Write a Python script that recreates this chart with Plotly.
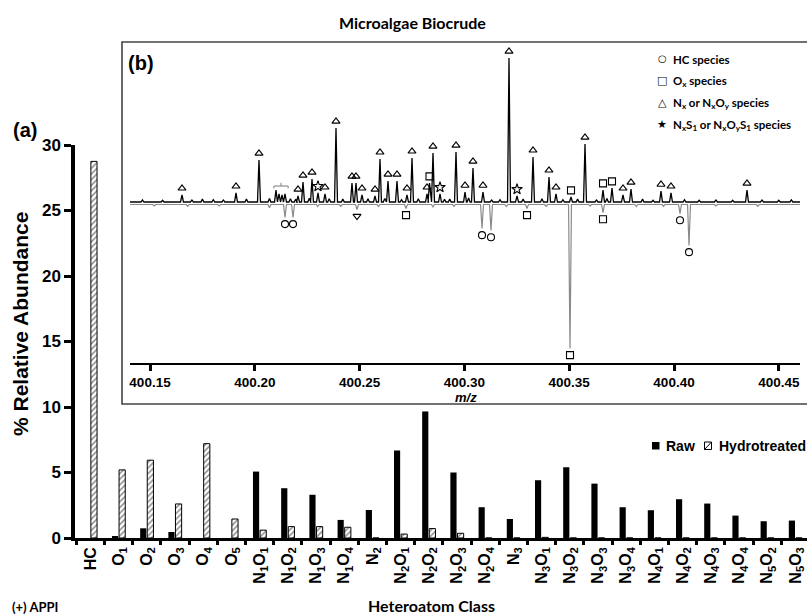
import plotly.graph_objects as go

W, H = 807, 615

# ---------------- (a) bar chart data ----------------
classes = ["HC", "O1", "O2", "O3", "O4", "O5", "N1O1", "N1O2", "N1O3", "N1O4", "N2",
           "N2O1", "N2O2", "N2O3", "N2O4", "N3", "N3O1", "N3O2", "N3O3", "N3O4",
           "N4O1", "N4O2", "N4O3", "N4O4", "N5O2", "N5O3"]
class_labels = ["HC", "O<sub>1</sub>", "O<sub>2</sub>", "O<sub>3</sub>", "O<sub>4</sub>", "O<sub>5</sub>",
                "N<sub>1</sub>O<sub>1</sub>", "N<sub>1</sub>O<sub>2</sub>", "N<sub>1</sub>O<sub>3</sub>",
                "N<sub>1</sub>O<sub>4</sub>", "N<sub>2</sub>", "N<sub>2</sub>O<sub>1</sub>",
                "N<sub>2</sub>O<sub>2</sub>", "N<sub>2</sub>O<sub>3</sub>", "N<sub>2</sub>O<sub>4</sub>",
                "N<sub>3</sub>", "N<sub>3</sub>O<sub>1</sub>", "N<sub>3</sub>O<sub>2</sub>",
                "N<sub>3</sub>O<sub>3</sub>", "N<sub>3</sub>O<sub>4</sub>", "N<sub>4</sub>O<sub>1</sub>",
                "N<sub>4</sub>O<sub>2</sub>", "N<sub>4</sub>O<sub>3</sub>", "N<sub>4</sub>O<sub>4</sub>",
                "N<sub>5</sub>O<sub>2</sub>", "N<sub>5</sub>O<sub>3</sub>"]
raw_abund = [0.0, 0.1, 0.74, 0.46, 0.0, 0.0, 5.07, 3.8, 3.3, 1.38, 2.14,
             6.68, 9.66, 5.0, 2.35, 1.45, 4.41, 5.4, 4.15, 2.35,
             2.12, 2.96, 2.63, 1.71, 1.28, 1.33]
hydro_abund = [28.75, 5.2, 5.94, 2.6, 7.2, 1.45, 0.6, 0.87, 0.87, 0.82, 0.0,
               0.3, 0.72, 0.36, 0.0, 0.0, 0.05, 0.0, 0.0, 0.0,
               0.0, 0.0, 0.0, 0.0, 0.0, 0.0]
y_ticks = [0, 5, 10, 15, 20, 25, 30]

# ---------------- (b) inset spectrum data ----------------
raw_mz = [400.16527, 400.19103, 400.20200, 400.21011, 400.21155, 400.21298, 400.21441,
          400.22061, 400.22300, 400.22729, 400.23015, 400.23349, 400.23874, 400.24637,
          400.24828, 400.25115, 400.25735, 400.25973, 400.26355, 400.26784, 400.27261,
          400.27500, 400.28216, 400.28335, 400.28502, 400.28836, 400.29599, 400.30029,
          400.30410, 400.30887, 400.32128, 400.32510, 400.33273, 400.34036, 400.34370,
          400.35086, 400.35754, 400.36613, 400.37042, 400.37567, 400.37948, 400.39380,
          400.39857, 400.43483]
raw_int = [4.9, 6.3, 29.2, 8.3, 5.6, 4.9, 5.6,
           4.2, 13.9, 16.0, 6.3, 5.6, 51.4, 13.2,
           13.2, 4.9, 4.2, 29.9, 14.6, 14.6, 4.9,
           30.6, 5.6, 13.2, 34.0, 5.6, 34.7, 6.9,
           23.6, 6.9, 100.0, 4.2, 31.3, 17.4, 5.6,
           3.5, 40.3, 8.3, 9.7, 4.9, 9.0, 7.6,
           6.3, 8.3]
raw_species = ["N", "N", "N", "", "", "", "",
               "N", "N", "N", "NS", "N", "N", "N",
               "N", "N", "N", "N", "N", "N", "N",
               "N", "N", "Ox", "N", "NS", "N", "N",
               "N", "N", "N", "NS", "N", "N", "N",
               "Ox", "N", "Ox", "Ox", "N", "N", "N",
               "N", "N"]
raw_minor_mz = [400.1464, 400.1560, 400.1700, 400.1750, 400.1802, 400.1850, 400.1960,
                400.2070, 400.2170, 400.2195, 400.2260, 400.2355, 400.2420, 400.2540,
                400.2620, 400.2700, 400.2780, 400.2905, 400.2930, 400.3020, 400.3130,
                400.3170, 400.3280, 400.3370, 400.3470, 400.3540, 400.3630, 400.3680,
                400.3850, 400.3900, 400.4050, 400.4120, 400.4200, 400.4280, 400.4420,
                400.4500, 400.4560]
raw_minor_int = [1.5, 1.2, 1.4, 2.0, 1.6, 1.4, 2.0,
                 2.4, 2.2, 1.8, 2.6, 2.2, 2.0, 2.2,
                 2.4, 1.6, 2.2, 1.8, 2.0, 2.8, 1.4,
                 1.6, 2.0, 2.2, 1.6, 2.0, 1.4, 2.4,
                 2.0, 1.2, 1.6, 1.2, 1.4, 1.2, 1.4,
                 1.2, 1.4]
hyd_mz = [400.21441, 400.21823, 400.24876, 400.27214, 400.30840, 400.31269,
          400.32987, 400.35038, 400.36613, 400.40286, 400.40716]
hyd_int = [9.0, 9.0, 3.5, 2.8, 16.7, 18.1, 2.8, 100.0, 5.6, 6.3, 28.5]
hyd_species = ["HC", "HC", "N", "Ox", "HC", "HC", "Ox", "Ox", "Ox", "HC", "HC"]
hyd_minor_mz = [400.1520, 400.1680, 400.1830, 400.2070, 400.2300, 400.2410, 400.2590,
                400.2850, 400.2950, 400.3200, 400.3390, 400.3600, 400.3820, 400.3950,
                400.4200, 400.4400]
hyd_minor_int = [1.0, 1.2, 1.0, 2.2, 1.4, 1.2, 1.4, 1.6, 1.2, 1.4, 1.2, 1.0, 1.4, 1.2, 1.0, 1.2]
bracket_group = [400.21011, 400.21155, 400.21298, 400.21441]
mz_ticks = [400.15, 400.20, 400.25, 400.30, 400.35, 400.40, 400.45]


def px(x):
    return x / W


def py(y):
    return 1 - y / H


FONT_A = "Liberation Sans, Arial, sans-serif"
FONT_C = "Lato, 'Open Sans', sans-serif"

fig = go.Figure()

# ---- bars ----
fig.add_trace(go.Bar(x=classes, y=raw_abund, name="Raw", marker=dict(color="black", line=dict(width=0)),
                     xaxis="x", yaxis="y", showlegend=False))
fig.add_trace(go.Bar(x=classes, y=hydro_abund, name="Hydrotreated",
                     marker=dict(color="white", line=dict(color="black", width=1),
                                 pattern=dict(shape="/", fgcolor="black", bgcolor="white", size=4, solidity=0.35)),
                     xaxis="x", yaxis="y", showlegend=False))

# ---- inset spectrum ----
mz_lo = 400.15 + (130 - 150) / 2096
mz_hi = 400.15 + (800 - 150) / 2096
unit_px = 1.44
y2_lo = (202 - 363) / unit_px
y2_hi = (202 - 45) / unit_px
hyd_base = -2.5 / unit_px
w = 0.0007


def profile(mzs, ints, base, sign):
    pts = sorted(zip(mzs, ints))
    xs, ys = [mz_lo], [base]
    for m, h in pts:
        xs += [m - w, m, m + w]
        ys += [base, base + sign * h, base]
    xs.append(mz_hi)
    ys.append(base)
    return xs, ys


rx, ry = profile(raw_mz + raw_minor_mz, raw_int + raw_minor_int, 0.0, 1)
hx, hy = profile(hyd_mz + hyd_minor_mz, hyd_int + hyd_minor_int, hyd_base, -1)
fig.add_trace(go.Scatter(x=hx, y=hy, mode="lines", line=dict(color="#8a8a8a", width=1.2),
                         xaxis="x2", yaxis="y2", showlegend=False, hoverinfo="skip"))
fig.add_trace(go.Scatter(x=rx, y=ry, mode="lines", line=dict(color="black", width=1.3),
                         xaxis="x2", yaxis="y2", showlegend=False, hoverinfo="skip"))

sym_up = {"HC": "circle-open", "Ox": "square-open", "N": "triangle-up-open", "NS": "star-open"}
sym_dn = {"HC": "circle-open", "Ox": "square-open", "N": "triangle-down-open", "NS": "star-open"}
off = 4.6
for sp in ["HC", "Ox", "N", "NS"]:
    xs = [m for m, s in zip(raw_mz, raw_species) if s == sp]
    ys = [h + off for h, s in zip(raw_int, raw_species) if s == sp]
    if xs:
        fig.add_trace(go.Scatter(x=xs, y=ys, mode="markers", xaxis="x2", yaxis="y2", showlegend=False,
                                 marker=dict(symbol=sym_up[sp], size=8 if sp == "NS" else 7,
                                             color="black", line=dict(width=1.1, color="black"))))
    xs = [m for m, s in zip(hyd_mz, hyd_species) if s == sp]
    ys = [hyd_base - h - off for h, s in zip(hyd_int, hyd_species) if s == sp]
    if xs:
        fig.add_trace(go.Scatter(x=xs, y=ys, mode="markers", xaxis="x2", yaxis="y2", showlegend=False,
                                 marker=dict(symbol=sym_dn[sp], size=7,
                                             color="black", line=dict(width=1.1, color="black"))))

shapes = []
shapes.append(dict(type="rect", xref="paper", yref="paper", x0=px(122), x1=px(812), y0=py(404), y1=py(42),
                   line=dict(color="#444444", width=1.6), fillcolor="rgba(0,0,0,0)", layer="above"))
bx0, bx1 = min(bracket_group) - 0.0010, max(bracket_group) + 0.0015
bmid = (bx0 + bx1) / 2
bh = max(raw_int[3:7]) + 2.8
for s in [dict(x0=bx0, x1=bx1, y0=bh, y1=bh), dict(x0=bx0, x1=bx0, y0=bh, y1=bh - 1.6),
          dict(x0=bx1, x1=bx1, y0=bh, y1=bh - 1.6), dict(x0=bmid, x1=bmid, y0=bh, y1=bh + 2.2)]:
    shapes.append(dict(type="line", xref="x2", yref="y2", line=dict(color="#909090", width=1.2), **s))
shapes.append(dict(type="rect", xref="paper", yref="paper", x0=px(652), x1=px(659.5), y0=py(449.5), y1=py(442),
                   line=dict(width=0), fillcolor="black"))
shapes.append(dict(type="rect", xref="paper", yref="paper", x0=px(704.5), x1=px(711.5), y0=py(449.5), y1=py(442),
                   line=dict(width=1, color="black"), fillcolor="white"))
shapes.append(dict(type="line", xref="paper", yref="paper", x0=px(704.5), x1=px(711.5), y0=py(449.5), y1=py(442),
                   line=dict(width=1, color="black")))

ann = []


def text(x, y, t, size, family=FONT_A, xanchor="center", angle=0, italic=False, weight="bold"):
    ann.append(dict(x=px(x), y=py(y), xref="paper", yref="paper", text=t, showarrow=False,
                    xanchor=xanchor, yanchor="middle", textangle=angle,
                    font=dict(family=family, size=size, color="black", weight=weight,
                              style="italic" if italic else "normal")))


text(412, 23, "Microalgae Biocrude", 16, FONT_C)
text(25, 130, "(a)", 20)
text(141, 63, "(b)", 20)
text(20, 324, "% Relative Abundance", 21, angle=-90)
text(431, 605, "Heteroatom Class", 16, FONT_C)
text(10, 607, "(+) APPI", 13, FONT_C, xanchor="left")
text(466, 398, "m/z", 13, italic=True)
text(664, 446, "Raw", 14, xanchor="left")
text(717, 446, "Hydrotreated", 14, xanchor="left")
leg_sym = ["○", "□", "△", "★"]
leg_sz = [10, 11, 11, 11]
leg_txt = ["HC species", "O<sub>x</sub> species", "N<sub>x</sub> or N<sub>x</sub>O<sub>y</sub> species",
           "N<sub>x</sub>S<sub>1</sub> or N<sub>x</sub>O<sub>y</sub>S<sub>1</sub> species"]
for i, (s, t) in enumerate(zip(leg_sym, leg_txt)):
    yy = 58 + 22 * i
    text(662, yy, s, leg_sz[i], "DejaVu Sans", weight="normal")
    text(671, yy + 1, t, 11.5, FONT_C, xanchor="left")

fig.update_layout(
    width=W, height=H, margin=dict(l=0, r=0, t=0, b=0, pad=0), autosize=False,
    paper_bgcolor="white", plot_bgcolor="rgba(0,0,0,0)",
    barmode="group", bargap=0.496, bargroupgap=0.13,
    shapes=shapes, annotations=ann,
    xaxis=dict(domain=[px(75), 1], anchor="y", range=[-0.546, 25.41], type="category", automargin=False,
               tickmode="array", tickvals=classes, ticktext=class_labels, tickangle=-90,
               tickson="boundaries", ticks="outside", ticklen=4, tickwidth=3, tickcolor="black",
               showline=True, linecolor="black", linewidth=2.5, showgrid=False, zeroline=False,
               tickfont=dict(family=FONT_A, size=16, color="black", weight="bold")),
    yaxis=dict(domain=[py(538), py(145)], anchor="x", range=[0, 30], tickvals=y_ticks, automargin=False,
               ticks="outside", ticklen=7, tickwidth=3, tickcolor="black",
               showline=True, linecolor="black", linewidth=3.5, showgrid=False, zeroline=False,
               tickfont=dict(family=FONT_A, size=17, color="black", weight="bold")),
    xaxis2=dict(domain=[px(130), px(800)], anchor="y2", range=[mz_lo, mz_hi], automargin=False,
                tickvals=mz_ticks, ticktext=["%.2f" % v for v in mz_ticks],
                ticks="outside", ticklen=6, tickwidth=2.5, tickcolor="black",
                showline=True, linecolor="black", linewidth=2, showgrid=False, zeroline=False,
                tickfont=dict(family=FONT_A, size=13.5, color="black", weight="bold")),
    yaxis2=dict(domain=[py(363), py(45)], anchor="x2", range=[y2_lo, y2_hi], visible=False,
                automargin=False),
)

fig.write_html("out.html")
